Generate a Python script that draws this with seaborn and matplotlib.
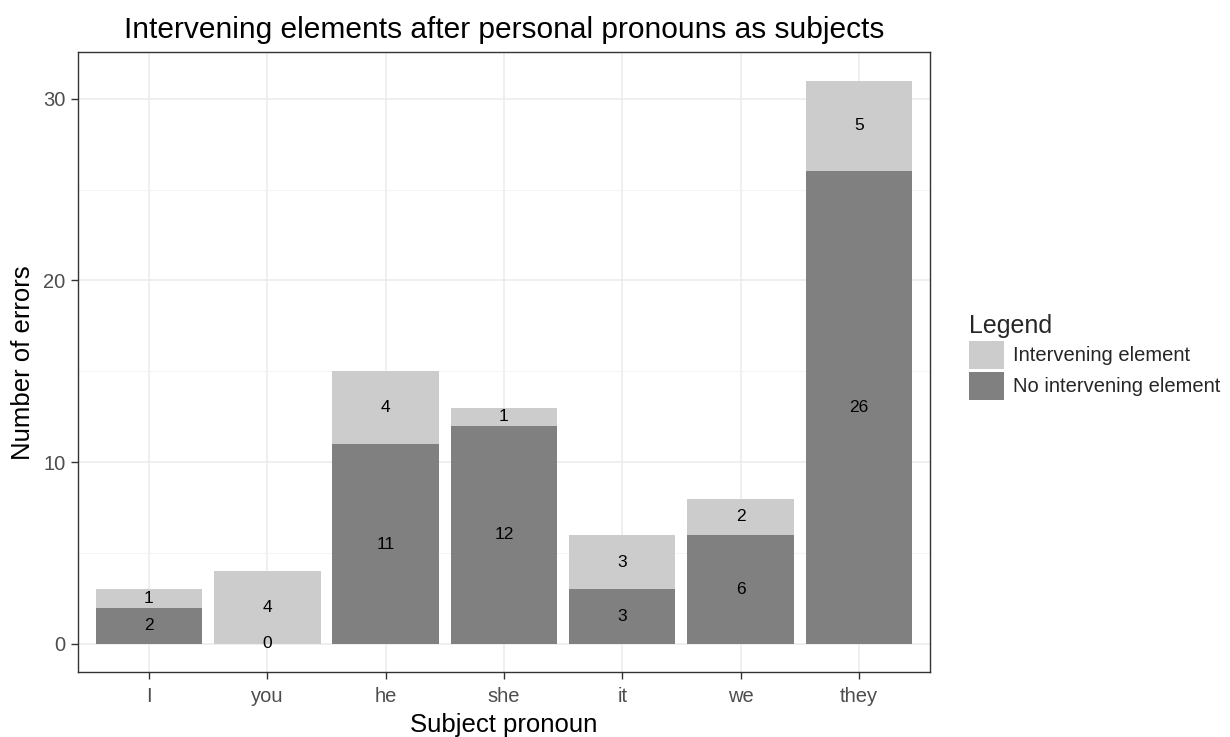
import pandas as pd
import matplotlib.pyplot as plt
import seaborn as sns
from matplotlib.patches import Patch
from matplotlib.ticker import MultipleLocator

pronouns = ["I", "you", "he", "she", "it", "we", "they"]
intervening = [1, 4, 4, 1, 3, 2, 5]
no_intervening = [2, 0, 11, 12, 3, 6, 26]

df = pd.DataFrame({"pronoun": pronouns,
                   "intervening": intervening,
                   "no_intervening": no_intervening})
df["total"] = df["intervening"] + df["no_intervening"]

light = "#CCCCCC"
dark = "#808080"

sns.set_theme(style="whitegrid")
plt.rcParams["font.family"] = ["Liberation Sans", "DejaVu Sans"]

fig = plt.figure(figsize=(12.3, 7.37), dpi=100)
ax = fig.add_axes([0.0634, 0.088, 0.6926, 0.841])

sns.barplot(data=df, x="pronoun", y="total", color=light, width=0.9,
            saturation=1, linewidth=0, ax=ax, zorder=2)
sns.barplot(data=df, x="pronoun", y="no_intervening", color=dark, width=0.9,
            saturation=1, linewidth=0, ax=ax, zorder=3)

# labels in the middle of each segment
for i, row in df.iterrows():
    ax.text(i, row["no_intervening"] / 2, str(row["no_intervening"]),
            ha="center", va="center", fontsize=12.5, color="black", zorder=4)
    ax.text(i, row["no_intervening"] + row["intervening"] / 2, str(row["intervening"]),
            ha="center", va="center", fontsize=12.5, color="black", zorder=4)

ax.set_ylim(-1.55, 32.55)
ax.set_xlim(-0.6, 6.6)
ax.yaxis.set_major_locator(MultipleLocator(10))
ax.yaxis.set_minor_locator(MultipleLocator(5))
ax.set_facecolor("white")
ax.grid(True, which="major", color="#EBEBEB", linewidth=1.1, zorder=0)
ax.grid(True, which="minor", axis="y", color="#F2F2F2", linewidth=0.6, zorder=0)
ax.set_axisbelow(True)
for s in ax.spines.values():
    s.set_color("#333333")
    s.set_linewidth(1.0)
ax.tick_params(axis="both", which="major", length=5, width=1, color="#333333",
               labelsize=14.5, labelcolor="#4D4D4D", bottom=True, left=True, pad=4)
ax.tick_params(axis="x", which="major", pad=6)
ax.tick_params(axis="y", which="minor", length=0)

ax.set_xlabel("Subject pronoun", fontsize=18.5, color="black", labelpad=5)
ax.set_ylabel("Number of errors", fontsize=18.5, color="black", labelpad=6)
ax.set_title("Intervening elements after personal pronouns as subjects",
             fontsize=21.5, color="black", pad=10)

handles = [Patch(facecolor=light, edgecolor="none", label="Intervening element"),
           Patch(facecolor=dark, edgecolor="none", label="No intervening element")]
leg = fig.legend(handles=handles, title="Legend", loc="upper left",
                 bbox_to_anchor=(0.781, 0.585), frameon=False, fontsize=14.5,
                 title_fontsize=18, handlelength=1.75, handleheight=1.75,
                 handletextpad=0.45, labelspacing=0.15, borderaxespad=0)
leg._legend_box.align = "left"

fig.savefig("out.png", dpi=100)
